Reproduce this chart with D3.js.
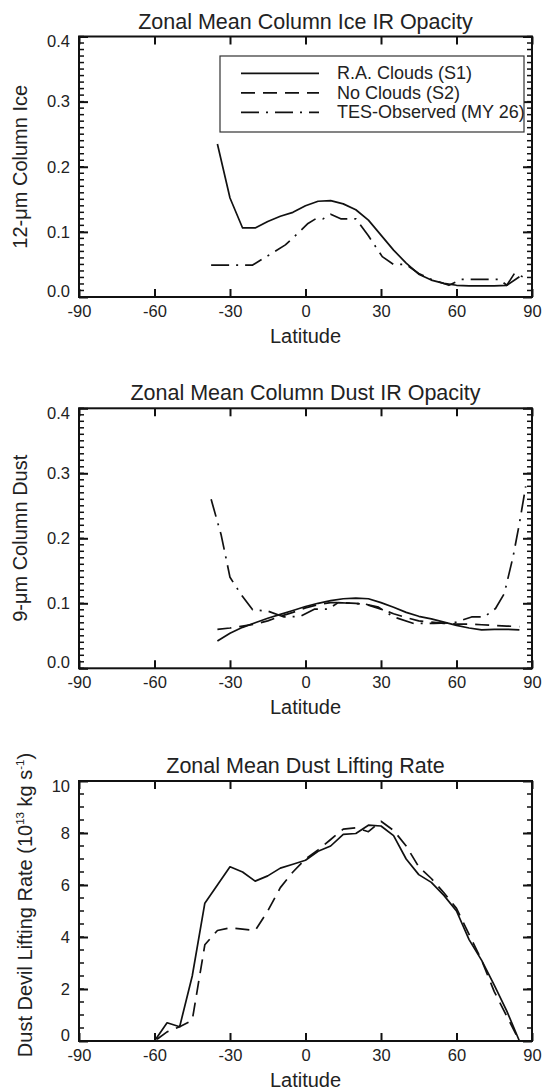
<!DOCTYPE html>
<html>
<head>
<meta charset="utf-8">
<script src="https://cdn.jsdelivr.net/npm/d3@7"></script>
<style>
  body { margin: 0; background: #fff; }
  svg { display: block; }
  text { font-family: "Liberation Sans", Arial, sans-serif; fill: #222; }
</style>
</head>
<body>
<div id="chart"></div>
<script>
// ---- data ----
const latModel = [-35,-30,-25,-20,-15,-10,-5,0,5,10,15,20,25,30,35,40,45,50,55,60,65,70,75,80,85];

const iceS1 = [0.235,0.152,0.106,0.106,0.116,0.124,0.130,0.140,0.147,0.148,0.143,0.134,0.118,0.095,0.072,0.052,0.035,0.026,0.021,0.018,0.017,0.017,0.017,0.018,0.031];

const latTesIce = [-37.5,-21,-8,-3,1,4,7,10,14,20,25,30.5,35,40,45,50,57,62,70,77,80,83,87];
const iceTes = [0.049,0.049,0.080,0.098,0.113,0.120,0.120,0.127,0.120,0.120,0.094,0.062,0.050,0.050,0.036,0.027,0.018,0.027,0.027,0.027,0.018,0.036,0.030];

const dustS1 = [0.042,0.054,0.063,0.070,0.077,0.083,0.089,0.095,0.100,0.104,0.107,0.108,0.107,0.101,0.094,0.086,0.080,0.076,0.071,0.066,0.062,0.059,0.060,0.060,0.059];
const dustS2 = [0.060,0.062,0.065,0.068,0.073,0.080,0.086,0.093,0.098,0.101,0.101,0.100,0.097,0.091,0.084,0.078,0.073,0.071,0.069,0.068,0.068,0.067,0.066,0.065,0.064];

const latTesDust = [-37.5,-33.5,-30,-25.5,-21,-15,-8.5,-2,3.5,9,13,23.5,29,35,43,51,59,66,71,75.5,79,82.5,85,87.5];
const dustTes = [0.260,0.205,0.140,0.113,0.090,0.088,0.079,0.080,0.091,0.091,0.101,0.099,0.094,0.079,0.069,0.069,0.070,0.079,0.079,0.092,0.115,0.172,0.223,0.280];

const latLift = [-85,-80,-75,-70,-65,-60,-55,-50,-45,-40,-35,-30,-25,-20,-15,-10,-5,0,5,10,15,20,25,30,35,40,45,50,55,60,65,70,75,80,85];
const liftS1 = [0,0,0,0,0,0,0.7,0.55,2.5,5.3,6.0,6.7,6.5,6.15,6.35,6.65,6.8,6.95,7.3,7.5,7.95,7.98,8.3,8.27,7.9,7.0,6.4,6.1,5.6,5.0,3.9,3.1,2.15,1.15,0];
const liftS2 = [0,0,0,0,0,0,0.35,0.55,0.8,3.7,4.25,4.35,4.3,4.25,5.0,5.9,6.5,7.0,7.35,7.75,8.15,8.2,8.05,8.45,8.1,7.5,6.7,6.25,5.7,5.1,4.1,3.1,1.9,0.95,0];

const xTicks = [-90,-60,-30,0,30,60,90];
const opacityTicks = [0.0,0.1,0.2,0.3,0.4];
const liftTicks = [0,2,4,6,8,10];
const legendLabels = ["R.A. Clouds (S1)", "No Clouds (S2)", "TES-Observed (MY 26)"];

// ---- drawing ----
const W = 548, H = 1092;
const left = 79, right = 532;
const dashS2 = "14,8";
const dashTes = "18,7,2,7";

const svg = d3.select("#chart").append("svg")
    .attr("width", W)
    .attr("height", H);

const x = d3.scaleLinear().domain([-90, 90]).range([left, right]);

function zip(lats, vals){
    return lats.map((d, i) => [d, vals[i]]);
}

function drawPanel(p){
    const y = d3.scaleLinear().domain([p.ticks[0], p.ticks[p.ticks.length-1]]).range([p.bottom, p.top]);
    const g = svg.append("g");

    // title
    g.append("text")
        .attr("x", (left+right)/2)
        .attr("y", p.top - 8)
        .attr("text-anchor", "middle")
        .attr("font-size", 21.5)
        .text(p.title);

    // minor ticks on y, both sides, pointing inward
    [[left, 5], [right, -5]].forEach(([x0, len]) => {
        g.append("g").selectAll("line")
            .data(p.minor)
            .join("line")
            .attr("x1", x0).attr("x2", x0 + len)
            .attr("y1", d => y(d)).attr("y2", d => y(d))
            .attr("stroke", "#111").attr("stroke-width", 1.5);
    });

    // major ticks
    const yl = g.append("g").attr("transform", `translate(${left},0)`)
        .call(d3.axisLeft(y).tickValues(p.ticks).tickSize(-9).tickPadding(9).tickFormat(p.fmt));
    g.append("g").attr("transform", `translate(${right},0)`)
        .call(d3.axisRight(y).tickValues(p.ticks).tickSize(-9).tickFormat(""));
    g.append("g").attr("transform", `translate(0,${p.bottom})`)
        .call(d3.axisBottom(x).tickValues(xTicks).tickSize(-8).tickPadding(8).tickFormat(d => String(d)));
    g.append("g").attr("transform", `translate(0,${p.top})`)
        .call(d3.axisTop(x).tickValues(xTicks).tickSize(-8).tickFormat(""));

    g.selectAll(".domain").remove();
    g.selectAll(".tick line").attr("stroke", "#111").attr("stroke-width", 2);
    g.selectAll(".tick text").attr("font-family", null).attr("font-size", 16.5).attr("fill", "#222");

    // end labels sit a little inside the box
    yl.selectAll(".tick text").attr("dy", (d, i) =>
        i === 0 ? "-0.05em" : (i === p.ticks.length-1 ? "0.62em" : "0.32em"));

    // box
    g.append("rect")
        .attr("x", left).attr("y", p.top)
        .attr("width", right-left).attr("height", p.bottom-p.top)
        .attr("fill", "none").attr("stroke", "#111").attr("stroke-width", 2);

    // axis titles
    g.append("text")
        .attr("x", (left+right)/2)
        .attr("y", p.bottom + 46)
        .attr("text-anchor", "middle")
        .attr("font-size", 20)
        .text("Latitude");

    const yt = g.append("text")
        .attr("transform", `translate(${p.ylabX},${(p.top+p.bottom)/2 + p.ylabShift}) rotate(-90)`)
        .attr("text-anchor", "middle")
        .attr("font-size", 20);
    p.ylabel.forEach(part => {
        const t = yt.append("tspan").text(part.t);
        if(part.sup){
            t.attr("font-size", 11.5).attr("dy", -8);
        }else if(part.after){
            t.attr("dy", 8);
        }
    });

    // curves
    const line = d3.line().x(d => x(d[0])).y(d => y(d[1]));
    p.series.forEach(s => {
        g.append("path")
            .datum(s.data)
            .attr("d", line)
            .attr("fill", "none")
            .attr("stroke", "#111")
            .attr("stroke-width", 1.7)
            .attr("stroke-linejoin", "round")
            .attr("stroke-dasharray", s.dash);
    });
}

const panels = [
    {
        title: "Zonal Mean Column Ice IR Opacity",
        top: 36.5, bottom: 297,
        ticks: opacityTicks,
        minor: d3.range(0, 0.4001, 0.01),
        fmt: d3.format(".1f"),
        ylabX: 27, ylabShift: 0,
        ylabel: [{t: "12-μm Column Ice"}],
        series: [
            {data: zip(latModel, iceS1), dash: null},
            {data: zip(latTesIce, iceTes), dash: dashTes}
        ]
    },
    {
        title: "Zonal Mean Column Dust IR Opacity",
        top: 408.3, bottom: 668.3,
        ticks: opacityTicks,
        minor: d3.range(0, 0.4001, 0.01),
        fmt: d3.format(".1f"),
        ylabX: 27, ylabShift: 0,
        ylabel: [{t: "9-μm Column Dust"}],
        series: [
            {data: zip(latModel, dustS1), dash: null},
            {data: zip(latModel, dustS2), dash: dashS2},
            {data: zip(latTesDust, dustTes), dash: dashTes}
        ]
    },
    {
        title: "Zonal Mean Dust Lifting Rate",
        top: 781, bottom: 1041,
        ticks: liftTicks,
        minor: d3.range(0, 10.001, 0.5),
        fmt: d3.format("d"),
        ylabX: 32, ylabShift: -6,
        ylabel: [{t: "Dust Devil Lifting Rate (10"}, {t: "13", sup: true}, {t: " kg s", after: true},
                 {t: "-1", sup: true}, {t: ")", after: true}],
        series: [
            {data: zip(latLift, liftS1), dash: null},
            {data: zip(latLift, liftS2), dash: dashS2}
        ]
    }
];

panels.forEach(drawPanel);

// legend in the top panel
const leg = svg.append("g");
leg.append("rect")
    .attr("x", 220).attr("y", 56)
    .attr("width", 304).attr("height", 76)
    .attr("fill", "#fff").attr("stroke", "#333").attr("stroke-width", 1.2);
const legDash = [null, dashS2, dashTes];
legendLabels.forEach((lab, i) => {
    const yy = 73.3 + i*19.5;
    leg.append("line")
        .attr("x1", 241).attr("x2", 319)
        .attr("y1", yy).attr("y2", yy)
        .attr("stroke", "#111").attr("stroke-width", 1.7)
        .attr("stroke-dasharray", legDash[i]);
    leg.append("text")
        .attr("x", 337).attr("y", yy + 6)
        .attr("font-size", 18)
        .text(lab);
});
</script>
</body>
</html>
